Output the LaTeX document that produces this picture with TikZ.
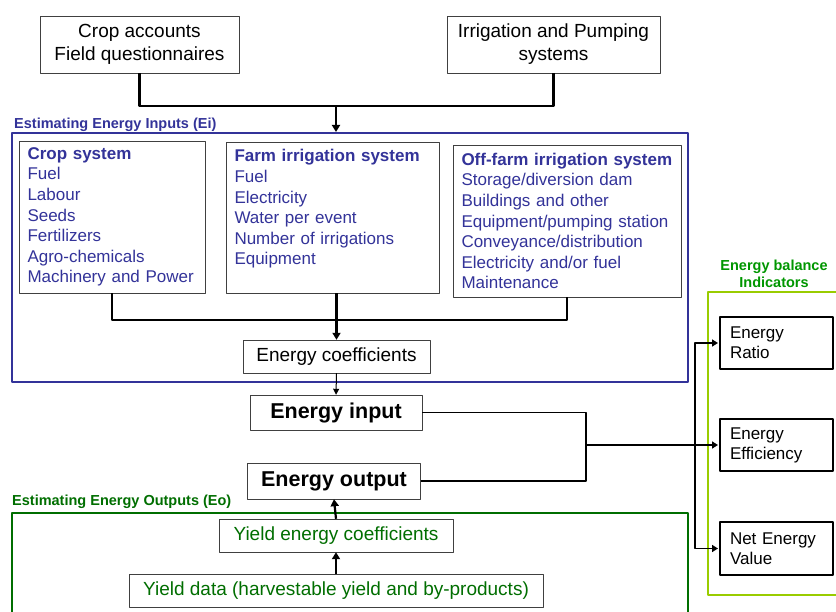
\documentclass[tikz,border=0pt]{standalone}
\usepackage{fontspec}
\setmainfont{Liberation Sans}
\usetikzlibrary{arrows.meta}
\definecolor{eiblue}{RGB}{51,51,153}
\definecolor{eogreen}{RGB}{0,110,0}
\definecolor{ebgreen}{RGB}{0,150,0}
\definecolor{ebframe}{RGB}{153,204,0}
\begin{document}
\begin{tikzpicture}[x=1pt,y=-1pt,line join=round,>={Triangle[length=7pt,width=8pt]},
	box/.style={draw=black!75,fill=white,inner sep=0pt,align=center,font=\fontsize{19}{23}\selectfont},
	bigbox/.style={box,font=\fontsize{21.5}{25}\selectfont\bfseries},
	sysbox/.style={draw=black!75,fill=white,inner xsep=8.5pt,inner ysep=0pt,align=left,text=eiblue,font=\fontsize{17}{20.6}\selectfont},
	indbox/.style={draw=black,line width=2pt,fill=white,inner xsep=10pt,inner ysep=0pt,text width=93pt,align=left,font=\fontsize{17}{20}\selectfont},
	tag/.style={inner sep=0pt,font=\fontsize{14.5}{17}\selectfont\bfseries},
	link/.style={line width=2.2pt},
	feed/.style={line width=1.8pt,-{Triangle[length=6pt,width=7pt]}}]
\useasboundingbox (0,0) rectangle (836,612);
% data sources
\node[box,minimum width=199pt,minimum height=57pt] (crop) at (139.5,44.5) {Crop accounts\\Field questionnaires};
\node[box,minimum width=213pt,minimum height=57pt] (irr) at (553.5,44.5) {Irrigation and Pumping\\systems};
% energy inputs
\node[draw=eiblue,line width=2pt,inner sep=0pt,minimum width=676pt,minimum height=249pt] (ei) at (350,257.5) {};
\node[tag,text=eiblue,anchor=west] (eilabel) at (14,125) {Estimating Energy Inputs (Ei)};
\node[sysbox,text width=169pt,minimum height=152pt] (cropsys) at (112,217) {\textbf{Crop system}\\Fuel\\Labour\\Seeds\\Fertilizers\\Agro-chemicals\\Machinery and Power};
\node[sysbox,text width=196pt,minimum height=151pt] (farm) at (332.5,217.5) {\textbf{Farm irrigation system}\\Fuel\\Electricity\\Water per event\\Number of irrigations\\Equipment\\\mbox{}};
\node[sysbox,text width=211pt,minimum height=152pt] (off) at (567,221) {\textbf{Off-farm irrigation system}\\Storage/diversion dam\\Buildings and other\\Equipment/pumping station\\Conveyance/distribution\\Electricity and/or fuel\\Maintenance};
\node[box,minimum width=187pt,minimum height=33pt] (coeff) at (336.5,356.5) {Energy coefficients};
\node[bigbox,minimum width=172pt,minimum height=35pt] (input) at (336,412.5) {Energy input};
\node[bigbox,minimum width=173pt,minimum height=36pt] (output) at (334,481) {Energy output};
% energy outputs
\draw[eogreen,line width=2pt] (12,612) |- (688,513) -- (688,612);
\node[tag,text=eogreen,anchor=west] (eolabel) at (12,502) {Estimating Energy Outputs (Eo)};
\node[box,text=eogreen,minimum width=234pt,minimum height=33pt] (ycoef) at (336,535.5) {Yield energy coefficients};
\node[box,text=eogreen,minimum width=414pt,minimum height=33pt] (ydata) at (336,590.5) {Yield data (harvestable yield and by-products)};
% indicators
\draw[ebframe,line width=2pt] (836,292) -- (708,292) -- (708,595) -- (836,595);
\node[tag,text=ebgreen,align=center] (eblabel) at (774,273.5) {Energy balance\\Indicators};
\node[indbox,minimum height=52pt] (ratio) at (776.5,343) {Energy\\Ratio};
\node[indbox,minimum height=52pt] (eff) at (776.5,445) {Energy\\Efficiency};
\node[indbox,minimum height=53pt] (nev) at (776.5,548.5) {Net Energy\\Value};
% connectors
\coordinate (j1) at (336,106);
\draw[link] (crop.south) |- (j1) -| (irr.south);
\draw[link,->] (j1) -- (j1 |- ei.north);
\coordinate (j2) at (337,320);
\draw[link] (cropsys.south) |- (j2) -| (off.south);
\draw[link,->] (coeff.north |- farm.south) -- (coeff.north);
\draw[line width=1pt,-{Triangle[length=6pt,width=6pt]}] (coeff.south) -- (input.north);
\draw[link,->] (ycoef.north) -- (output.south);
\draw[link,->] (ydata.north) -- (ycoef.south);
\coordinate (j3) at (586,445);
\draw[line width=1.8pt] (input.east) -| (j3) |- (output.east);
\coordinate (j4) at (695,445);
\draw[feed] (j3) -- ([xshift=-1pt]eff.west);
\draw[feed] (j4) |- ([xshift=-1pt]ratio.west);
\draw[feed] (j4) |- ([xshift=-1pt]nev.west);
\end{tikzpicture}
\end{document}
